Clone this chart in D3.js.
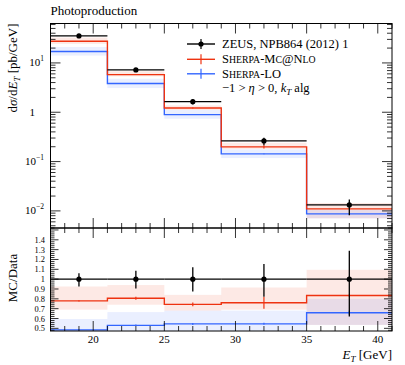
<!DOCTYPE html>
<html><head><meta charset="utf-8">
<script src="https://cdn.jsdelivr.net/npm/d3@7/dist/d3.min.js"></script>
<style>body{margin:0;background:#fff}svg text{font-family:"Liberation Serif",serif;fill:#000}</style>
</head><body><svg id="c" width="405" height="365"></svg>
<script>
// ---- data ----
const binEdges = [17, 21, 25, 29, 35, 41];
const dataVals = [35.3, 7.2, 1.64, 0.262, 0.0132];
const dataErrUpRel = [0.06, 0.085, 0.12, 0.155, 0.29];
const dataErrDnRel = [0.075, 0.095, 0.125, 0.18, 0.38];
const mcnloVals = [27.5, 5.8, 1.22, 0.199, 0.011];
const mcnloStatRel = [0.006, 0.015, 0.02, 0.06, 0.01];
const mcnloBandLoRel = [0.69, 0.74, 0.68, 0.69, 0.535];
const mcnloBandHiRel = [0.925, 0.94, 0.84, 0.915, 1.095];
const loVals = [17.1, 3.82, 0.894, 0.143, 0.0087];
const loStatRel = [0.004, 0.008, 0.01, 0.01, 0.02];
const loBandLoRel = [0.40, 0.43, 0.45, 0.45, 0.535];
const loBandHiRel = [0.595, 0.665, 0.68, 0.68, 0.80];
const xTickVals = [20, 25, 30, 35, 40];
const mainYTickExp = [-2, -1, 0, 1];
const ratioTickVals = [0.5, 0.6, 0.7, 0.8, 0.9, 1.0, 1.1, 1.2, 1.3, 1.4];
const legendLabels = ["ZEUS, NPB864 (2012) 1", "Sherpa-Mc@Nlo", "Sherpa-LO"];

const RED = "#EE3311", BLUE = "#3366FF";
const L = 50.5, R = 392, T = 23.5, M = 228, B = 331;
const svg = d3.select("#c");
const x = d3.scaleLinear().domain([17, 41]).range([L, R]);
const y = d3.scaleLog().domain([0.0045, 63]).range([M, T]);
const yr = d3.scaleLinear().domain([0.473, 1.52]).range([B, M]);

const bins = dataVals.map((d, i) => ({
  x0: binEdges[i], x1: binEdges[i + 1], xc: (binEdges[i] + binEdges[i + 1]) / 2,
  d, up: d * (1 + dataErrUpRel[i]), dn: d * (1 - dataErrDnRel[i]),
  r: mcnloVals[i], rs: mcnloStatRel[i] * d, rlo: mcnloBandLoRel[i] * d, rhi: mcnloBandHiRel[i] * d,
  b: loVals[i], bs: loStatRel[i] * d, blo: loBandLoRel[i] * d, bhi: loBandHiRel[i] * d
}));

function clipRect(id, y0, y1) {
  svg.append("clipPath").attr("id", id).append("rect").attr("x", L).attr("y", y0).attr("width", R - L).attr("height", y1 - y0);
}
clipRect("cm", T, M); clipRect("cr", M, B);

function panel(sy, val, clip) {
  const g = svg.append("g").attr("clip-path", `url(#${clip})`);
  [["rlo", "rhi", RED, 0.11], ["blo", "bhi", BLUE, 0.1]].forEach(([lo, hi, c, op]) => {
    g.selectAll(null).data(bins).enter().append("rect")
      .attr("x", d => x(d.x0)).attr("width", d => x(d.x1) - x(d.x0))
      .attr("y", d => sy(val(d, d[hi]))).attr("height", d => sy(val(d, d[lo])) - sy(val(d, d[hi])))
      .attr("fill", c).attr("fill-opacity", op);
  });
  [["b", "bs", BLUE], ["r", "rs", RED]].forEach(([k, s, c]) => {
    const pts = [];
    bins.forEach(d => { pts.push([x(d.x0), sy(val(d, d[k]))]); pts.push([x(d.x1), sy(val(d, d[k]))]); });
    g.append("path").attr("d", d3.line()(pts)).attr("fill", "none").attr("stroke", c).attr("stroke-width", 1.4);
    g.selectAll(null).data(bins).enter().append("line")
      .attr("x1", d => x(d.xc)).attr("x2", d => x(d.xc))
      .attr("y1", d => sy(val(d, d[k] - d[s]))).attr("y2", d => sy(val(d, d[k] + d[s])))
      .attr("stroke", c).attr("stroke-width", 1.2);
  });
  g.selectAll(null).data(bins).enter().append("line")
    .attr("x1", d => x(d.x0)).attr("x2", d => x(d.x1))
    .attr("y1", d => sy(val(d, d.d))).attr("y2", d => sy(val(d, d.d)))
    .attr("stroke", "#000").attr("stroke-width", 1.3);
  g.selectAll(null).data(bins).enter().append("line")
    .attr("x1", d => x(d.xc)).attr("x2", d => x(d.xc))
    .attr("y1", d => sy(val(d, d.dn))).attr("y2", d => sy(val(d, d.up)))
    .attr("stroke", "#000").attr("stroke-width", 1.3);
  g.selectAll(null).data(bins).enter().append("circle")
    .attr("cx", d => x(d.xc)).attr("cy", d => sy(val(d, d.d))).attr("r", 2.6).attr("fill", "#000");
}
panel(y, (d, v) => v, "cm");
panel(yr, (d, v) => v / d.d, "cr");

const ax = svg.append("g").attr("stroke", "#000").attr("fill", "none");
ax.append("rect").attr("x", L).attr("y", T).attr("width", R - L).attr("height", M - T).attr("stroke-width", 1);
ax.append("rect").attr("x", L).attr("y", M).attr("width", R - L).attr("height", B - M).attr("stroke-width", 1);

function tick(x1, y1, x2, y2) { ax.append("line").attr("x1", x1).attr("y1", y1).attr("x2", x2).attr("y2", y2).attr("stroke-width", 0.8); }
d3.range(17, 42).forEach(v => {
  const maj = v % 5 === 0, len = maj ? 10 : 5, px = x(v);
  [T, M].forEach(yy => tick(px, yy, px, yy + len));
  [M, B].forEach(yy => tick(px, yy, px, yy - len));
});
[-3, -2, -1, 0, 1].forEach(e => {
  for (let m = 1; m <= 9; m++) {
    const v = m * Math.pow(10, e);
    if (v < 0.0045 || v > 63) continue;
    const len = m === 1 ? 10 : 5, py = y(v);
    tick(L, py, L + len, py); tick(R, py, R - len, py);
  }
});
d3.range(48, 153, 2).forEach(k => {
  const v = k / 100, maj = k % 10 === 0, len = maj ? 8 : 4, py = yr(v);
  if (v < 0.473 || v > 1.52) return;
  tick(L, py, L + len, py); tick(R, py, R - len, py);
});

const tl = svg.append("g").attr("font-size", 11);
xTickVals.forEach(v => tl.append("text").attr("x", x(v)).attr("y", 343).attr("text-anchor", "middle").text(v));
mainYTickExp.forEach(e => {
  const t = tl.append("text").attr("y", y(Math.pow(10, e)) + 3.5).attr("text-anchor", "end");
  if (e === 0) { t.attr("x", 35).text("1"); }
  else {
    t.attr("x", 44).text("10");
    t.append("tspan").attr("dy", -5).attr("font-size", 7.5).text(e < 0 ? "\u2212" + (-e) : e);
  }
});
ratioTickVals.forEach(v => tl.append("text").attr("x", 45).attr("y", yr(v) + 3).attr("font-size", 8.4).attr("text-anchor", "end")
  .text(v === 1 ? "1" : d3.format(".1f")(v)));

svg.append("text").attr("x", L).attr("y", 15).attr("font-size", 13).text("Photoproduction");
const yl = svg.append("text").attr("transform", `translate(17,${T}) rotate(-90)`).attr("text-anchor", "end").attr("font-size", 13);
yl.append("tspan").text("d");
yl.append("tspan").attr("font-style", "italic").text("σ");
yl.append("tspan").text("/d");
yl.append("tspan").attr("font-style", "italic").text("E");
yl.append("tspan").attr("font-style", "italic").attr("font-size", 9).attr("dy", 2.5).text("T");
yl.append("tspan").attr("dy", -2.5).text(" [pb/GeV]");
svg.append("text").attr("transform", `translate(17,278) rotate(-90)`).attr("text-anchor", "middle").attr("font-size", 13).text("MC/Data");
const xl = svg.append("text").attr("x", R).attr("y", 359).attr("text-anchor", "end").attr("font-size", 13);
xl.append("tspan").attr("font-style", "italic").text("E");
xl.append("tspan").attr("font-style", "italic").attr("font-size", 9).attr("dy", 2.5).text("T");
xl.append("tspan").attr("dy", -2.5).text(" [GeV]");

const lg = svg.append("g").attr("font-size", 12.5);
const rows = [44, 59.3, 73.8];
const cols = ["#000", RED, BLUE];
rows.forEach((ry, i) => {
  lg.append("line").attr("x1", 187).attr("x2", 215).attr("y1", ry).attr("y2", ry).attr("stroke", cols[i]).attr("stroke-width", 1.4);
  lg.append("line").attr("x1", 201).attr("x2", 201).attr("y1", ry - 5).attr("y2", ry + 5).attr("stroke", cols[i]).attr("stroke-width", 1.2);
  if (i === 0) lg.append("circle").attr("cx", 201).attr("cy", ry).attr("r", 2.6).attr("fill", "#000");
});
function smallCaps(t, s) {
  for (const p of s.match(/[^a-z]+|[a-z]+/g)) {
    if (/^[a-z]+$/.test(p)) t.append("tspan").attr("font-size", 9.8).text(p.toUpperCase());
    else t.append("tspan").text(p);
  }
}
lg.append("text").attr("x", 222).attr("y", rows[0] + 4).text(legendLabels[0]);
smallCaps(lg.append("text").attr("x", 222).attr("y", rows[1] + 4), legendLabels[1]);
smallCaps(lg.append("text").attr("x", 222).attr("y", rows[2] + 4), legendLabels[2]);
const l4 = lg.append("text").attr("x", 222).attr("y", 92);
l4.append("tspan").text("\u22121 > ");
l4.append("tspan").attr("font-style", "italic").text("η");
l4.append("tspan").text(" > 0, ");
l4.append("tspan").attr("font-style", "italic").text("k");
l4.append("tspan").attr("font-style", "italic").attr("font-size", 9).attr("dy", 2.5).text("T");
l4.append("tspan").attr("dy", -2.5).text(" alg");
</script></body></html>
